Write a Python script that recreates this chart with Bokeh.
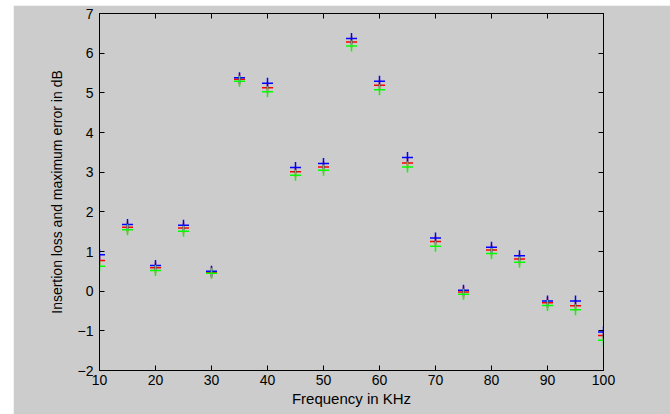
from bokeh.plotting import figure
from bokeh.models import Range1d, FixedTicker, LinearAxis, Spacer
from bokeh.layouts import row, column
from bokeh.embed import file_html
from bokeh.resources import INLINE

freq = [10, 15, 20, 25, 30, 35, 40, 45, 50, 55, 60, 65, 70, 75, 80, 85, 90, 95, 100]
blue_vals = [0.92, 1.68, 0.65, 1.66, 0.50, 5.38, 5.24, 3.12, 3.22, 6.37, 5.29, 3.37, 1.34, 0.02, 1.11, 0.89, -0.25, -0.25, -1.03]
red_vals = [0.77, 1.61, 0.59, 1.59, 0.48, 5.34, 5.13, 3.01, 3.13, 6.28, 5.19, 3.23, 1.25, -0.02, 1.04, 0.81, -0.29, -0.37, -1.12]
green_vals = [0.63, 1.55, 0.52, 1.51, 0.45, 5.29, 5.03, 2.92, 3.05, 6.18, 5.08, 3.13, 1.13, -0.08, 0.95, 0.73, -0.36, -0.47, -1.24]
x_ticks = [10, 20, 30, 40, 50, 60, 70, 80, 90, 100]
y_ticks = [-2, -1, 0, 1, 2, 3, 4, 5, 6, 7]

BG = "#cccccc"
FONT = "Liberation Sans"

p = figure(width=657, height=409, output_backend="svg", toolbar_location=None,
           x_range=Range1d(10, 100), y_range=Range1d(-2, 7),
           min_border_left=86, min_border_right=67, min_border_top=8, min_border_bottom=44)
p.background_fill_color = BG
p.border_fill_color = BG
p.outline_line_color = "black"
p.outline_line_width = 1
p.grid.visible = False

def style_axis(ax, show_labels):
    ax.minor_tick_line_color = None
    ax.major_tick_in = 5
    ax.major_tick_out = 0
    ax.major_tick_line_color = "black"
    ax.axis_line_color = "black"
    if show_labels:
        ax.major_label_text_font = FONT
        ax.major_label_text_font_size = "14px"
        ax.major_label_text_color = "black"
    else:
        ax.major_label_text_color = None
        ax.major_label_standoff = 0

xa = p.xaxis[0]
xa.ticker = FixedTicker(ticks=x_ticks)
style_axis(xa, True)
xa.major_label_standoff = 4
xa.axis_label = "Frequency in KHz"
xa.axis_label_text_font = FONT
xa.axis_label_text_font_size = "15px"
xa.axis_label_text_font_style = "normal"
xa.axis_label_text_color = "black"
xa.axis_label_standoff = 2

ya = p.yaxis[0]
ya.ticker = FixedTicker(ticks=y_ticks)
style_axis(ya, True)
ya.major_label_standoff = 6
ya.axis_label = "Insertion loss and maximum error in dB"
ya.axis_label_text_font = FONT
ya.axis_label_text_font_size = "14px"
ya.axis_label_text_font_style = "normal"
ya.axis_label_text_color = "black"
ya.axis_label_standoff = 10

top = LinearAxis(ticker=FixedTicker(ticks=x_ticks))
style_axis(top, False)
p.add_layout(top, "above")
right = LinearAxis(ticker=FixedTicker(ticks=y_ticks))
style_axis(right, False)
p.add_layout(right, "right")

p.scatter(freq, red_vals, marker="cross", size=11, line_width=1.5, color="#ff0000")
p.scatter(freq, blue_vals, marker="cross", size=11, line_width=1.5, color="#0000ff")
p.scatter(freq, green_vals, marker="cross", size=11, line_width=1.5, color="#00ff00")

layout = column(Spacer(width=670, height=5),
                row(Spacer(width=13, height=409), p))
open("out.html", "w").write(file_html(layout, INLINE))
